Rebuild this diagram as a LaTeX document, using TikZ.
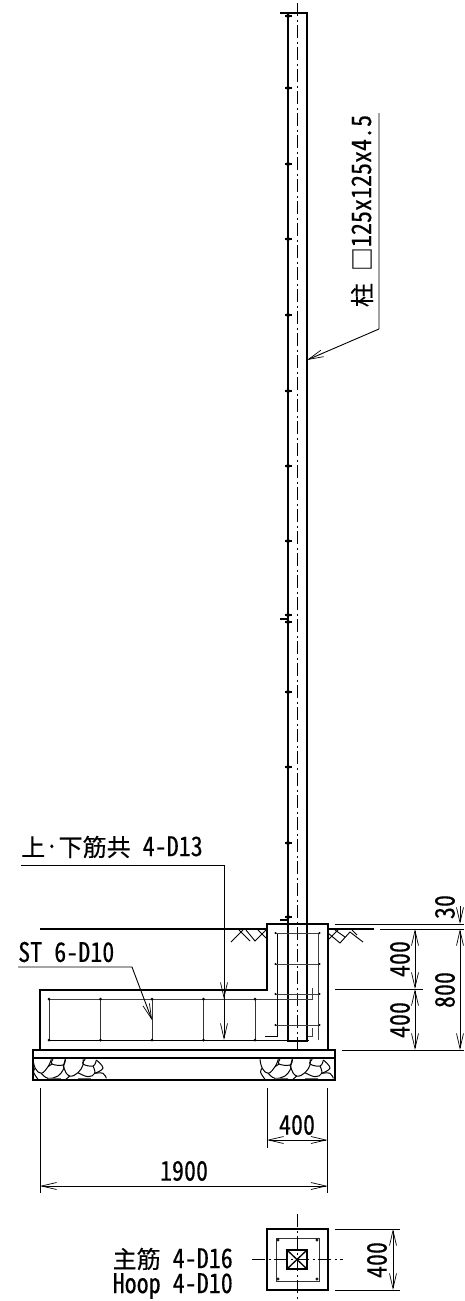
\documentclass[tikz,border=0pt]{standalone}
\usepackage{fontspec}
\usetikzlibrary{arrows.meta}
\newfontfamily\jpfont[FakeBold=0.25]{Noto Sans CJK JP}
\newfontfamily\latfont[RawFeature=+hwid,FakeStretch=0.89,FakeBold=0.25]{Noto Sans CJK JP}
\newcommand{\kj}[1]{{\jpfont\fontsize{24pt}{24pt}\selectfont #1}}
\tikzset{
  thick line/.style={line width=2pt,line cap=butt},
  thin line/.style={line width=0.9pt},
  rebar/.style={line width=1pt,black!75},
  centre/.style={line width=0.9pt,dash pattern=on 13pt off 3.5pt on 2pt off 3.5pt},
  barb/.style={-{Straight Barb[length=15pt,width=7pt,line width=0.7pt]}},
  twobarb/.style={{Straight Barb[length=15pt,width=7pt,line width=0.7pt]}-{Straight Barb[length=15pt,width=7pt,line width=0.7pt]}},
  label/.style={font=\latfont\fontsize{27pt}{27pt}\selectfont,inner sep=0pt,text=black},
  stone/.style={line width=1pt,smooth,tension=0.7}
}
\newcommand{\stones}[1]{%
 \begin{scope}[shift={(#1,1058)}]
 \draw[stone] plot coordinates {(0,1.3) (2.3,10.3) (8.3,15.3) (15,8.7) (18.3,1.3)};
 \draw[stone] plot coordinates {(20,1.3) (19,6) (30,7) (32.3,1.3)};
 \draw[stone] plot coordinates {(8.3,15.3) (15,20.3) (25,18) (30,12) (31,10.3)};
 \draw[stone] plot coordinates {(19,6) (15,8.7)};
 \draw[stone] plot coordinates {(30,7) (31,10.3)};
 \draw[stone] plot coordinates {(32.3,1.3) (31,10.3) (36.7,18) (45,14.7) (50,7) (50,1.3)};
 \draw[stone] plot coordinates {(52.3,1.3) (50,6) (60,8) (63.3,2)};
 \draw[stone] plot coordinates {(60,8) (61.7,15.3) (55,18.7) (45,14.7)};
 \draw[stone] plot coordinates {(61.7,15.3) (70,15.3) (73.3,20.3)};
 \draw[stone] plot coordinates {(63.3,2) (70,10) (61.7,15.3)};
 \draw[stone] plot coordinates {(2.3,10.3) (0.5,14) (5,21.3)};
 \draw[stone] plot coordinates {(36.7,18) (33,21.3)};
 \draw[line width=1pt,black!60] (15,20.6) -- (28,20.6) (45,20.6) -- (58,20.6);
 \end{scope}}
\begin{document}
\begin{tikzpicture}[x=1pt,y=-1pt]
\useasboundingbox (0,0) rectangle (464,1301);
\fill[white] (0,0) rectangle (464,1301);

% named points
\coordinate (colTL) at (288,12.5); \coordinate (colBR) at (307,1041);
\coordinate (ctop) at (297.5,3); \coordinate (cbot) at (297.5,1050);
\coordinate (colLeaderTip) at (307,360);
\coordinate (colLeaderKnee) at (379,329);
\coordinate (colLeaderEnd) at (379,113);
\coordinate (barTip) at (224,1040); \coordinate (barTipUp) at (224,999);
\coordinate (barKnee) at (224,865); \coordinate (barEnd) at (21,865);
\coordinate (stTip) at (152,1020); \coordinate (stKnee) at (132,967); \coordinate (stEnd) at (18,967);

% column
\draw[centre] (ctop) -- (cbot);
\draw[thick line] (colTL) -- (288,1041) -- (307,1041) -- (307,12.5) -- (280,12.5);

% column connection ticks
\foreach \yy in {16,88,164,239,315,391,466,541,692,767,843} {
  \draw[line width=1.2pt] (285,\yy) -- (291.5,\yy);
  \fill (288,\yy) circle (2pt);
}
\foreach \yy in {615,622} {\draw[line width=1.2pt] (285,\yy) -- (291.5,\yy); \fill (288,\yy) circle (2pt);}
\draw[line width=2pt] (280,618.5) -- (289,618.5);
\draw[line width=1.2pt] (285,917) -- (291.5,917); \fill (288,917) circle (2pt);
\draw[line width=2pt] (280,920) -- (289,920);

% concrete outline
\draw[thick line] (40,1050) -- (40,989.5) -- (267,989.5) -- (267,924) -- (328,924) -- (328,1050);
% base slab
\draw[thick line] (33,1050) -- (335,1050) -- (335,1080) -- (33,1080) -- cycle;
\draw[thick line] (33,1058) -- (335,1058);
\stones{33}
\stones{260}

% ground
\draw[line width=1.2pt] (40,929) -- (267,929);
\draw[line width=1.2pt] (328,929) -- (374,929);
\draw[thin line] (380,929) -- (464,929);
\draw[thin line] (335,924) -- (464,924);
\draw[thin line] (335,989) -- (423,989);
\draw[thin line] (342,1050) -- (464,1050);
% earth hatching
\draw[thin line] (231,942) -- (243,930) (239,930) -- (250,941) (246,930) -- (255,941) -- (266,930) (258,930) -- (266,938);
\draw[thin line] (328,933) -- (340,943) -- (350,932) -- (363,942) (335,930) -- (345,937) (328,940) -- (338,930) (352,930) -- (357,935);

% footing bars
\draw[rebar] (49,999) -- (312,999) -- (312,988);
\draw[rebar,black] (49,1040) -- (309,1040);
\foreach \xx in {49,100.5,152,203.5,255} {
  \draw[rebar,black!80] (\xx,999) -- (\xx,1040);
  \fill (\xx,999) circle (1.5pt); \fill (\xx,1040) circle (1.5pt);
}
% pier bars
\draw[rebar,black] (265,1036) -- (277,1036) -- (277,933);
\draw[rebar] (318,933) -- (318,1040);
\foreach \yy in {933,964,994,1025} {
  \draw[rebar] (275.5,\yy) -- (319.5,\yy);
  \fill (275.5,\yy) circle (1.2pt); \fill (319.5,\yy) circle (1.2pt);
}
\draw[rebar] (312,1028) -- (312,1036) -- (308,1036);

% column leader
\node[label,rotate=90,anchor=center] (colLabel) at (362,211) {\kj{柱} \kj{□}125x125x4.5};
\draw[thin line,barb] (colLeaderEnd) -- (colLeaderKnee) -- (colLeaderTip);

% bar leaders
\node[label,anchor=west] (barLabel) at (21,847) {\kj{上}·\kj{下筋共} 4-D13};
\draw[thin line,barb] (barEnd) -- (barKnee) -- (barTip);
\draw[thin line,barb] (barKnee) -- (barTipUp);
\node[label,anchor=west] (stLabel) at (18,952) {ST 6-D10};
\draw[thin line,barb] (stEnd) -- (stKnee) -- (stTip);

% right dimensions
\coordinate (d1) at (415,929); \coordinate (d2) at (415,989); \coordinate (d3) at (415,1050);
\draw[thin line,twobarb] (d1) -- (d2);
\draw[thin line,twobarb] (d2) -- (d3);
\node[label,rotate=90] (dimA) at (400,959) {400};
\node[label,rotate=90] (dimB) at (400,1020) {400};
\coordinate (e0) at (460,906); \coordinate (e1) at (460,924); \coordinate (e2) at (460,929); \coordinate (e3) at (460,1050);
\draw[thin line,barb] (e0) -- (e1);
\draw[thin line,twobarb] (e2) -- (e3);
\node[label,rotate=90] (dimC) at (445,907) {30};
\node[label,rotate=90] (dimD) at (445,990) {800};

% lower dimensions
\draw[thin line] (40,1088) -- (40,1193);
\draw[thin line] (267,1088) -- (267,1148);
\draw[thin line] (327.5,1088) -- (327.5,1193);
\coordinate (f1) at (267,1140); \coordinate (f2) at (327.5,1140);
\coordinate (g1) at (40,1186); \coordinate (g2) at (327.5,1186);
\draw[thin line,twobarb] (f1) -- (f2);
\draw[thin line,twobarb] (g1) -- (g2);
\node[label] (dimE) at (297,1125) {400};
\node[label] (dimF) at (184,1171) {1900};

% plan
\draw[line width=1.8pt] (267,1229) rectangle (328,1290);
\draw[rebar,black!80] (276,1238) rectangle (319,1281);
\foreach \xx in {278,317} \foreach \yy in {1240,1279} \draw[line width=.7pt] (\xx,\yy) circle (1.2pt);
\draw[centre] (297.5,1214) -- (297.5,1301);
\draw[centre] (252,1259.5) -- (343,1259.5);
\draw[thick line] (287,1250) rectangle (307,1269);
\draw[line width=1.3pt] (287,1250) -- (307,1269) (287,1269) -- (307,1250);
\draw[thin line] (335,1229) -- (400,1229) (335,1290) -- (400,1290);
\coordinate (h1) at (393,1229); \coordinate (h2) at (393,1290);
\draw[thin line,twobarb] (h1) -- (h2);
\node[label,rotate=90] (dimG) at (377,1260) {400};
\node[label,anchor=east] (mainLabel) at (233,1259) {\kj{主筋} 4-D16};
\node[label,anchor=east] (hoopLabel) at (233,1286) {Hoop 4-D10};
\end{tikzpicture}
\end{document}
